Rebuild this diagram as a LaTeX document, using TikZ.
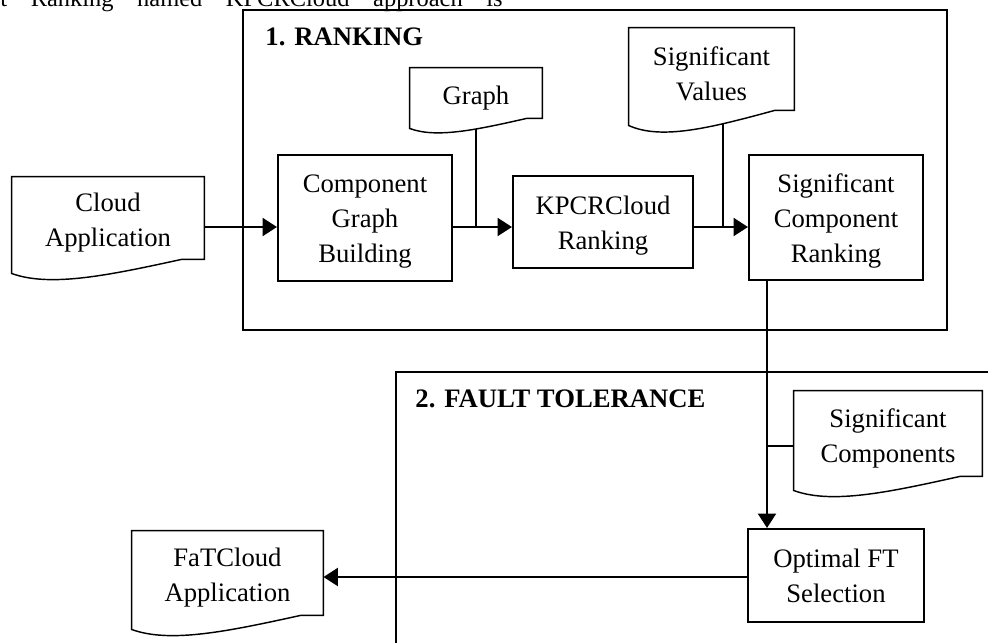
\documentclass[tikz,border=0pt,12pt]{standalone}
\usepackage{fontspec}
\setmainfont{Liberation Serif}
\usetikzlibrary{arrows.meta,calc}
\pgfdeclarelayer{background}
\pgfsetlayers{background,main}

% taller first line pushes the text a little down in its shape
\newcommand{\docup}{\rule{0pt}{12.7pt}}
\newcommand{\boxup}{\rule{0pt}{11.4pt}}

% document symbol: rectangle of the node with a wavy bottom hanging below
\newcommand{\docshape}[2][14]{%
  \fill[white] ($(#2.south east)+(0,-2)$)
    -- ($(#2.south west)!0.88!(#2.south east)$)
    .. controls ($(#2.south west)!0.5!(#2.south east)+(0,8/7*#1)$)
       and ($(#2.south west)!0.2!(#2.south east)+(0,2*#1)$)
    .. ($(#2.south west)+(0,#1)$) -- ($(#2.south west)+(0,-2)$) -- cycle;
  \draw[docline] (#2.north west) -- (#2.north east) -- (#2.south east)
    -- ($(#2.south west)!0.88!(#2.south east)$)
    .. controls ($(#2.south west)!0.5!(#2.south east)+(0,8/7*#1)$)
       and ($(#2.south west)!0.2!(#2.south east)+(0,2*#1)$)
    .. ($(#2.south west)+(0,#1)$) -- cycle;}

\begin{document}
\begin{tikzpicture}[x=0.45pt, y=-0.45pt,
    box/.style={draw, line width=0.9pt, align=center, inner sep=0pt,
                font=\fontsize{12}{15.75}\selectfont},
    doc/.style={fill=white, align=center, inner sep=0pt,
                font=\fontsize{12}{15.75}\selectfont},
    docline/.style={line width=0.65pt},
    frame/.style={line width=0.9pt},
    title/.style={anchor=base west, inner sep=0pt,
                  font=\fontsize{12}{15}\selectfont\bfseries},
    arr/.style={line width=1.3pt, -{Triangle[length=6.5pt,width=8pt]}},
    link/.style={line width=0.6pt}]
  \useasboundingbox (0,0) rectangle (988,643);

  \node[anchor=base west, inner sep=0pt, font=\fontsize{11}{13}\selectfont] (lead) at (0,6)
    {\makebox[226pt]{t\hfill Ranking\hfill named\hfill KPCRCloud\hfill approach\hfill is}};

  \node[title] (rtitle) at (265,45) {1. RANKING};
  \node[title] (ftitle) at (415,407) {2. FAULT TOLERANCE};

  \node[doc, minimum width=86.4pt, minimum height=36.9pt] (cloud) at (108,218) {\docup Cloud\\Application};
  \node[box, minimum width=78.3pt, minimum height=56.7pt] (cgb) at (365,218) {\boxup Component\\Graph\\Building};
  \node[doc, minimum width=59.4pt, minimum height=22.5pt] (graph) at (476,93) {\docup Graph};
  \node[box, minimum width=81pt, minimum height=41.4pt] (kpcr) at (603,222) {\boxup KPCRCloud\\Ranking};
  \node[doc, minimum width=74.25pt, minimum height=36.9pt] (sigval) at (711.5,69) {\docup Significant\\Values};
  \node[box, minimum width=78.3pt, minimum height=56.25pt] (scr) at (836,217.5) {\boxup Significant\\Component\\Ranking};
  \node[doc, minimum width=84.6pt, minimum height=38.25pt] (sigcomp) at (888,433.5) {\docup Significant\\Components};
  \node[box, minimum width=79.2pt, minimum height=41.85pt] (oft) at (836,575.5) {Optimal FT\\Selection};
  \node[doc, minimum width=85.95pt, minimum height=37.8pt] (fat) at (227.5,573) {\docup FaTCloud\\Application};

  \docshape{cloud}
  \docshape[10]{graph}
  \docshape[15]{sigval}
  \docshape{sigcomp}
  \docshape{fat}

  \coordinate (row) at (0,227);
  \coordinate (svtap) at (723,0);
  \coordinate (drop) at (767,0);
  \coordinate (tap) at (767,446);
  \coordinate (back) at (0,577);

  \begin{pgfonlayer}{background}
    \draw[frame] (243,10) rectangle (947,330);
    \draw[frame] (988,372) -- (395.5,372) -- (395.5,643);
    \draw[link] (graph.south) -- (graph.south |- row);
    \draw[link] (sigval.south -| svtap) -- (svtap |- row);
    \draw[link] (sigcomp.west |- tap) -- (tap);
  \end{pgfonlayer}

  \draw[arr] (cloud.east |- row) -- (cgb.west |- row);
  \draw[arr] (cgb.east |- row) -- (kpcr.west |- row);
  \draw[arr] (kpcr.east |- row) -- (scr.west |- row);
  \draw[arr] (scr.south -| drop) -- (oft.north -| drop);
  \draw[arr] (oft.west |- back) -- (fat.east |- back);
\end{tikzpicture}
\end{document}
